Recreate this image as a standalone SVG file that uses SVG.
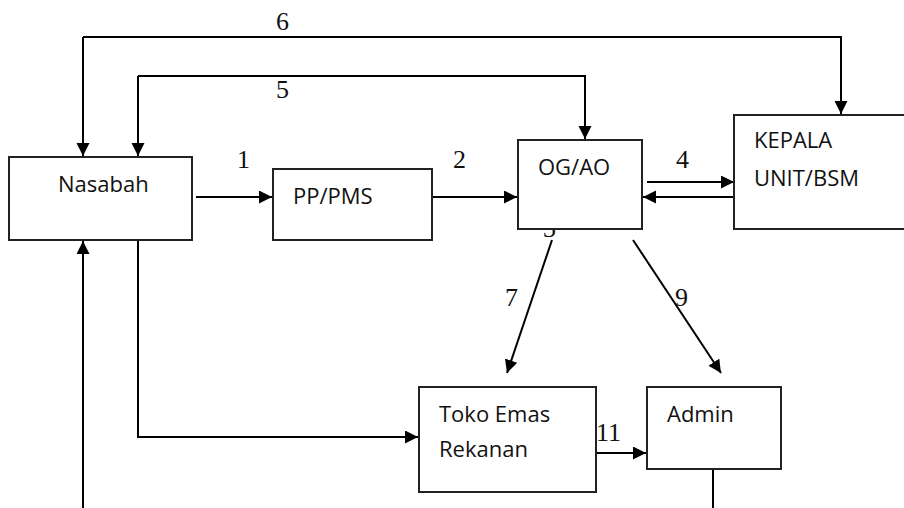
<svg xmlns="http://www.w3.org/2000/svg" width="904" height="508" viewBox="0 0 904 508">
<style>
.box{fill:#fff;stroke:#222;stroke-width:2}
.t{font-family:"Open Sans","Liberation Sans",sans-serif;font-size:22px;fill:#111}
.n{font-family:"Liberation Serif","Times New Roman",serif;font-size:26px;fill:#111}
.c{fill:none;stroke:#000;stroke-width:2}
</style>
<defs>
<marker id="ah" markerUnits="userSpaceOnUse" markerWidth="14" markerHeight="14" refX="13" refY="6.5" orient="auto">
<path d="M0,0 L13,6.5 L0,13 Z" fill="#000"/>
</marker>
</defs>
<rect width="904" height="508" fill="#fff"/>
<g id="labels">
<text class="n" x="237" y="168">1</text>
<text class="n" x="453" y="168">2</text>
<text class="n" x="543" y="237">3</text>
<text class="n" x="676" y="168">4</text>
<text class="n" x="276" y="98">5</text>
<text class="n" x="276" y="30">6</text>
<text class="n" x="505" y="306">7</text>
<text class="n" x="675" y="306">9</text>
<text class="n" x="596" y="441">11</text>
</g>
<g id="connectors">
<path class="c" d="M83,37 H841 V114" marker-end="url(#ah)"/>
<path class="c" d="M83,37 V156" marker-end="url(#ah)"/>
<path class="c" d="M138,76 H585 V139" marker-end="url(#ah)"/>
<path class="c" d="M138,76 V156" marker-end="url(#ah)"/>
<path class="c" d="M196,197 H272" marker-end="url(#ah)"/>
<path class="c" d="M432,197 H517" marker-end="url(#ah)"/>
<path class="c" d="M647,182 H734" marker-end="url(#ah)"/>
<path class="c" d="M734,197 H643" marker-end="url(#ah)"/>
<path class="c" d="M552,240 L507,373" marker-end="url(#ah)"/>
<path class="c" d="M633,240 L721,373" marker-end="url(#ah)"/>
<path class="c" d="M138,240 V437 H418" marker-end="url(#ah)"/>
<path class="c" d="M596,453 H646" marker-end="url(#ah)"/>
<path class="c" d="M83,508 V241" marker-end="url(#ah)"/>
<path class="c" d="M713,469 V508"/>
</g>
<g id="nasabah">
<rect class="box" x="9" y="157" width="183" height="83"/>
<text class="t" x="58" y="192">Nasabah</text>
</g>
<g id="pp-pms">
<rect class="box" x="273" y="169" width="159" height="71"/>
<text class="t" x="293" y="204">PP/PMS</text>
</g>
<g id="og-ao">
<rect class="box" x="518" y="140" width="124" height="89"/>
<text class="t" x="538" y="175">OG/AO</text>
</g>
<g id="kepala">
<rect class="box" x="734" y="115" width="180" height="114"/>
<text class="t" x="754" y="148">KEPALA</text>
<text class="t" x="754" y="186">UNIT/BSM</text>
</g>
<g id="toko">
<rect class="box" x="419" y="387" width="177" height="105"/>
<text class="t" x="439" y="422">Toko Emas</text>
<text class="t" x="439" y="457">Rekanan</text>
</g>
<g id="admin">
<rect class="box" x="647" y="387" width="134" height="82"/>
<text class="t" x="667" y="422">Admin</text>
</g>
</svg>
